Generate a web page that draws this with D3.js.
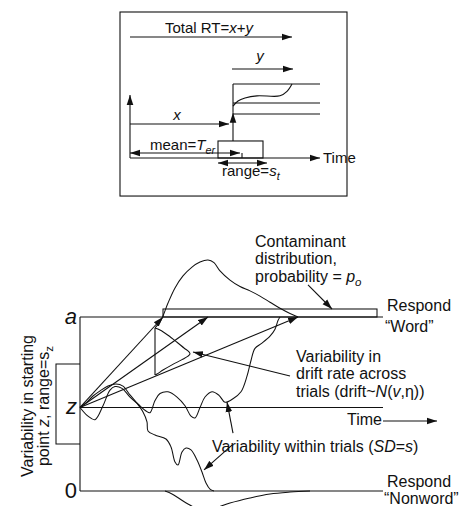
<!DOCTYPE html>
<html>
<head>
<meta charset="utf-8">
<script src="https://cdn.jsdelivr.net/npm/d3@7"></script>
<style>
  body { margin: 0; background: #fff; }
  text { font-family: "Liberation Sans", Arial, Helvetica, sans-serif; fill: #111; }
</style>
</head>
<body>
<div id="plot"></div>
<script>
// ---- top panel: components of one RT (time units, stage level) ----
const stageLevels = [1, 0.743, 0.595];
const stageCurveT = [103, 108, 115, 127, 150, 157, 162];
const stageCurveL = [0.70, 0.77, 0.81, 0.84, 0.84, 0.90, 1.0];
const terBox = [88, 133];          // uniform Ter distribution (range s_t)
const terHeight = 0.23;
const decisionStart = 103;         // x ends, y starts
const terMean = 112;

// ---- bottom panel: diffusion process (time units, evidence 0..a) ----
const boundA = 1, startZ = 0.48;
const szRange = [0.27, 0.73];
const driftTips = [83, 128, 218];  // where the three drift lines meet a

const walkUpT = [0, 8, 15, 23, 30, 35, 42, 50, 58, 66, 70, 75, 80, 88, 97, 105, 111, 115, 120, 125, 132, 139, 145, 153, 161, 167, 171, 175, 182, 190, 195, 198, 200];
const walkUpE = [0.48, 0.43, 0.41, 0.49, 0.58, 0.60, 0.59, 0.54, 0.50, 0.46, 0.45, 0.52, 0.56, 0.57, 0.54, 0.49, 0.43, 0.42, 0.48, 0.54, 0.57, 0.55, 0.51, 0.53, 0.57, 0.66, 0.75, 0.82, 0.85, 0.89, 0.93, 0.98, 1.0];

const walkDownT = [0, 6, 13, 20, 28, 36, 43, 50, 56, 63, 67, 68, 75, 86, 91, 95, 98, 102, 106, 111, 117, 122, 126, 130, 134];
const walkDownE = [0.48, 0.506, 0.546, 0.575, 0.603, 0.615, 0.603, 0.552, 0.511, 0.454, 0.397, 0.345, 0.322, 0.299, 0.253, 0.167, 0.149, 0.224, 0.247, 0.236, 0.178, 0.109, 0.046, 0.011, 0];

const rtUpperT = [75, 80, 83, 88, 95, 103, 112, 120, 128, 134, 140, 150, 160, 170, 180, 190, 200, 210, 218];
const rtUpperE = [0.937, 0.971, 1.006, 1.080, 1.167, 1.236, 1.287, 1.316, 1.328, 1.312, 1.265, 1.212, 1.175, 1.150, 1.120, 1.085, 1.050, 1.020, 1.0];

const rtLowerT = [85, 92, 100, 108, 116, 125, 135, 150, 170, 190, 210, 230];
const rtLowerE = [0, -0.017, -0.046, -0.075, -0.098, -0.109, -0.098, -0.069, -0.040, -0.017, -0.006, 0];

const driftDensT = [75, 80, 88, 97, 104, 109, 110, 108, 102, 92, 83, 77, 75];
const driftDensE = [0.937, 0.925, 0.895, 0.855, 0.822, 0.800, 0.788, 0.775, 0.755, 0.725, 0.695, 0.672, 0.667];

const contaminant = [83, 297, 1.046];  // t from, t to, top

const W = 463, H = 506;
const svg = d3.select("#plot").append("svg").attr("width", W).attr("height", H);

svg.append("defs").append("marker")
    .attr("id", "head")
    .attr("viewBox", "0 -4 10 8")
    .attr("refX", 10).attr("refY", 0)
    .attr("markerWidth", 10).attr("markerHeight", 8)
    .attr("markerUnits", "userSpaceOnUse")
    .attr("orient", "auto-start-reverse")
  .append("path")
    .attr("d", "M0,-3.3L10,0L0,3.3Z")
    .attr("fill", "#111");

function seg(g, x1, y1, x2, y2, head, both) {
  const l = g.append("line")
      .attr("x1", x1).attr("y1", y1).attr("x2", x2).attr("y2", y2)
      .attr("stroke", "#111").attr("stroke-width", 1.1);
  if (head) l.attr("marker-end", "url(#head)");
  if (both) l.attr("marker-start", "url(#head)");
  return l;
}

// ================= top panel =================
const tx = d3.scaleLinear().domain([0, 190]).range([130, 320]);
const ty = d3.scaleLinear().domain([0, 1]).range([158, 84]);
const topG = svg.append("g");

topG.append("rect")
    .attr("x", tx(-10)).attr("y", ty(1.973))
    .attr("width", tx(217) - tx(-10)).attr("height", ty(-0.514) - ty(1.973))
    .attr("fill", "none").attr("stroke", "#111").attr("stroke-width", 1.1);

// time axis and vertical axis
seg(topG, tx(0), ty(0), tx(190), ty(0), true);
seg(topG, tx(0), ty(0), tx(0), ty(0.852), true);

// Ter distribution box
topG.append("rect")
    .attr("x", tx(terBox[0])).attr("y", ty(terHeight))
    .attr("width", tx(terBox[1]) - tx(terBox[0])).attr("height", ty(0) - ty(terHeight))
    .attr("fill", "none").attr("stroke", "#111").attr("stroke-width", 1.1);

// decision stage
seg(topG, tx(decisionStart), ty(terHeight), tx(decisionStart), ty(0.61), true);
seg(topG, tx(decisionStart), ty(0.61), tx(decisionStart), ty(1));
stageLevels.forEach(l => seg(topG, tx(decisionStart), ty(l), tx(190), ty(l)));
topG.append("path")
    .datum(stageCurveT.map((t, i) => [t, stageCurveL[i]]))
    .attr("d", d3.line().x(d => tx(d[0])).y(d => ty(d[1])).curve(d3.curveCatmullRom))
    .attr("fill", "none").attr("stroke", "#111").attr("stroke-width", 1.1);

// x, y, total arrows
seg(topG, tx(0), ty(0.46), tx(99), ty(0.46), true);
seg(topG, tx(102), ty(1.203), tx(163), ty(1.203), true);
seg(topG, tx(0), ty(1.635), tx(162), ty(1.635), true);
seg(topG, tx(0), ty(0.068), tx(110), ty(0.068), true, true);
seg(topG, tx(terMean), ty(0.068), tx(terMean), ty(0));
seg(topG, tx(88), ty(-0.068), tx(137), ty(-0.068), true, true);

const fTop = 15;
function rich(g, x, y, parts, size, anchor) {
  const t = g.append("text").attr("x", x).attr("y", y)
      .attr("font-size", size).attr("text-anchor", anchor || "start");
  parts.forEach(p => {
    const s = t.append("tspan").text(p[0]);
    if (p[1] && p[1].includes("i")) s.attr("font-style", "italic");
    if (p[1] && p[1].includes("sub")) s.attr("font-size", size * 0.72).attr("dy", 4);
  });
  return t;
}
rich(topG, 209, 33, [["Total RT="], ["x", "i"], ["+"], ["y", "i"]], fTop, "middle");
rich(topG, 260, 61, [["y", "i"]], fTop, "middle");
rich(topG, 177, 120, [["x", "i"]], fTop, "middle");
rich(topG, 150, 150, [["mean="], ["T", "i"], ["er", "i sub"]], fTop);
rich(topG, 222, 176, [["range="], ["s", "i"], ["t", "i sub"]], fTop);
rich(topG, 323, 163, [["Time"]], fTop);

// ================= bottom panel =================
const bx = d3.scaleLinear().domain([0, 303]).range([80, 383]);
const by = d3.scaleLinear().domain([0, 1]).range([491, 317]);
const bot = svg.append("g");
const line = d3.line().x(d => bx(d[0])).y(d => by(d[1]));
const curvy = d3.line().x(d => bx(d[0])).y(d => by(d[1])).curve(d3.curveCatmullRom);
const zip = (a, b) => a.map((v, i) => [v, b[i]]);

function drawPath(pts, gen) {
  bot.append("path").datum(pts).attr("d", gen)
      .attr("fill", "none").attr("stroke", "#111").attr("stroke-width", 1.05);
}

// boundaries and starting point
seg(bot, bx(0), by(boundA), bx(303), by(boundA));
seg(bot, bx(0), by(startZ), bx(303), by(startZ));
seg(bot, bx(0), by(0), bx(303), by(0));
seg(bot, bx(0), by(0), bx(0), by(boundA));
seg(bot, bx(303), by(0.402), bx(357), by(0.402), true);

// contaminant box
bot.append("rect")
    .attr("x", bx(contaminant[0])).attr("y", by(contaminant[2]))
    .attr("width", bx(contaminant[1]) - bx(contaminant[0]))
    .attr("height", by(boundA) - by(contaminant[2]))
    .attr("fill", "none").attr("stroke", "#111").attr("stroke-width", 1.05);

// sz bracket
bot.append("path")
    .datum([[0, szRange[1]], [-24, szRange[1]], [-24, szRange[0]], [0, szRange[0]]])
    .attr("d", line).attr("fill", "none").attr("stroke", "#111").attr("stroke-width", 1.05);

// drift lines with distribution
driftTips.forEach(t => seg(bot, bx(0), by(startZ), bx(t), by(boundA), true));
seg(bot, bx(75), by(0.667), bx(75), by(0.937));
drawPath(zip(driftDensT, driftDensE), curvy);

// RT distributions
drawPath(zip(rtUpperT, rtUpperE), curvy);
drawPath(zip(rtLowerT, rtLowerE), curvy);

// sample paths
drawPath(zip(walkUpT, walkUpE), curvy);
drawPath(zip(walkDownT, walkDownE), curvy);

// pointer arrows
seg(bot, bx(228), by(1.184), bx(252), by(1.046), true);
seg(bot, bx(210), by(0.661), bx(113), by(0.799), true);
seg(bot, bx(153), by(0.333), bx(147), by(0.511), true);
seg(bot, bx(152), by(0.264), bx(124), by(0.121), true);

const fB = 16;
rich(bot, 77, 324, [["a", "i"]], 22, "end");
rich(bot, 77, 414, [["z", "i"]], 22, "end");
rich(bot, 77, 498, [["0"]], 22, "end");

rich(bot, 255, 247, [["Contaminant"]], fB);
rich(bot, 255, 264, [["distribution,"]], fB);
rich(bot, 255, 282, [["probability = "], ["p", "i"], ["o", "i sub"]], fB);
rich(bot, 387, 311, [["Respond"]], fB);
rich(bot, 385, 332, [["\u201CWord\u201D"]], fB);
rich(bot, 296, 362, [["Variability in"]], fB);
rich(bot, 296, 379, [["drift rate across"]], fB);
rich(bot, 296, 397, [["trials (drift~"], ["N", "i"], ["("], ["v", "i"], [",\u03B7))"]], fB);
rich(bot, 382, 425, [["Time"]], fB, "end");
rich(bot, 212, 452, [["Variability within trials ("], ["SD", "i"], ["="], ["s", "i"], [")"]], fB);
rich(bot, 387, 487, [["Respond"]], fB);
rich(bot, 384, 504, [["\u201CNonword\u201D"]], fB);

const lab1 = rich(bot, 0, 0, [["Variability in starting"]], fB, "middle");
lab1.attr("transform", "translate(33,406) rotate(-90)");
const lab2 = rich(bot, 0, 0, [["point "], ["z", "i"], [", range="], ["s"], ["z", "sub"]], fB, "middle");
lab2.attr("transform", "translate(49,406) rotate(-90)");
</script>
</body>
</html>
